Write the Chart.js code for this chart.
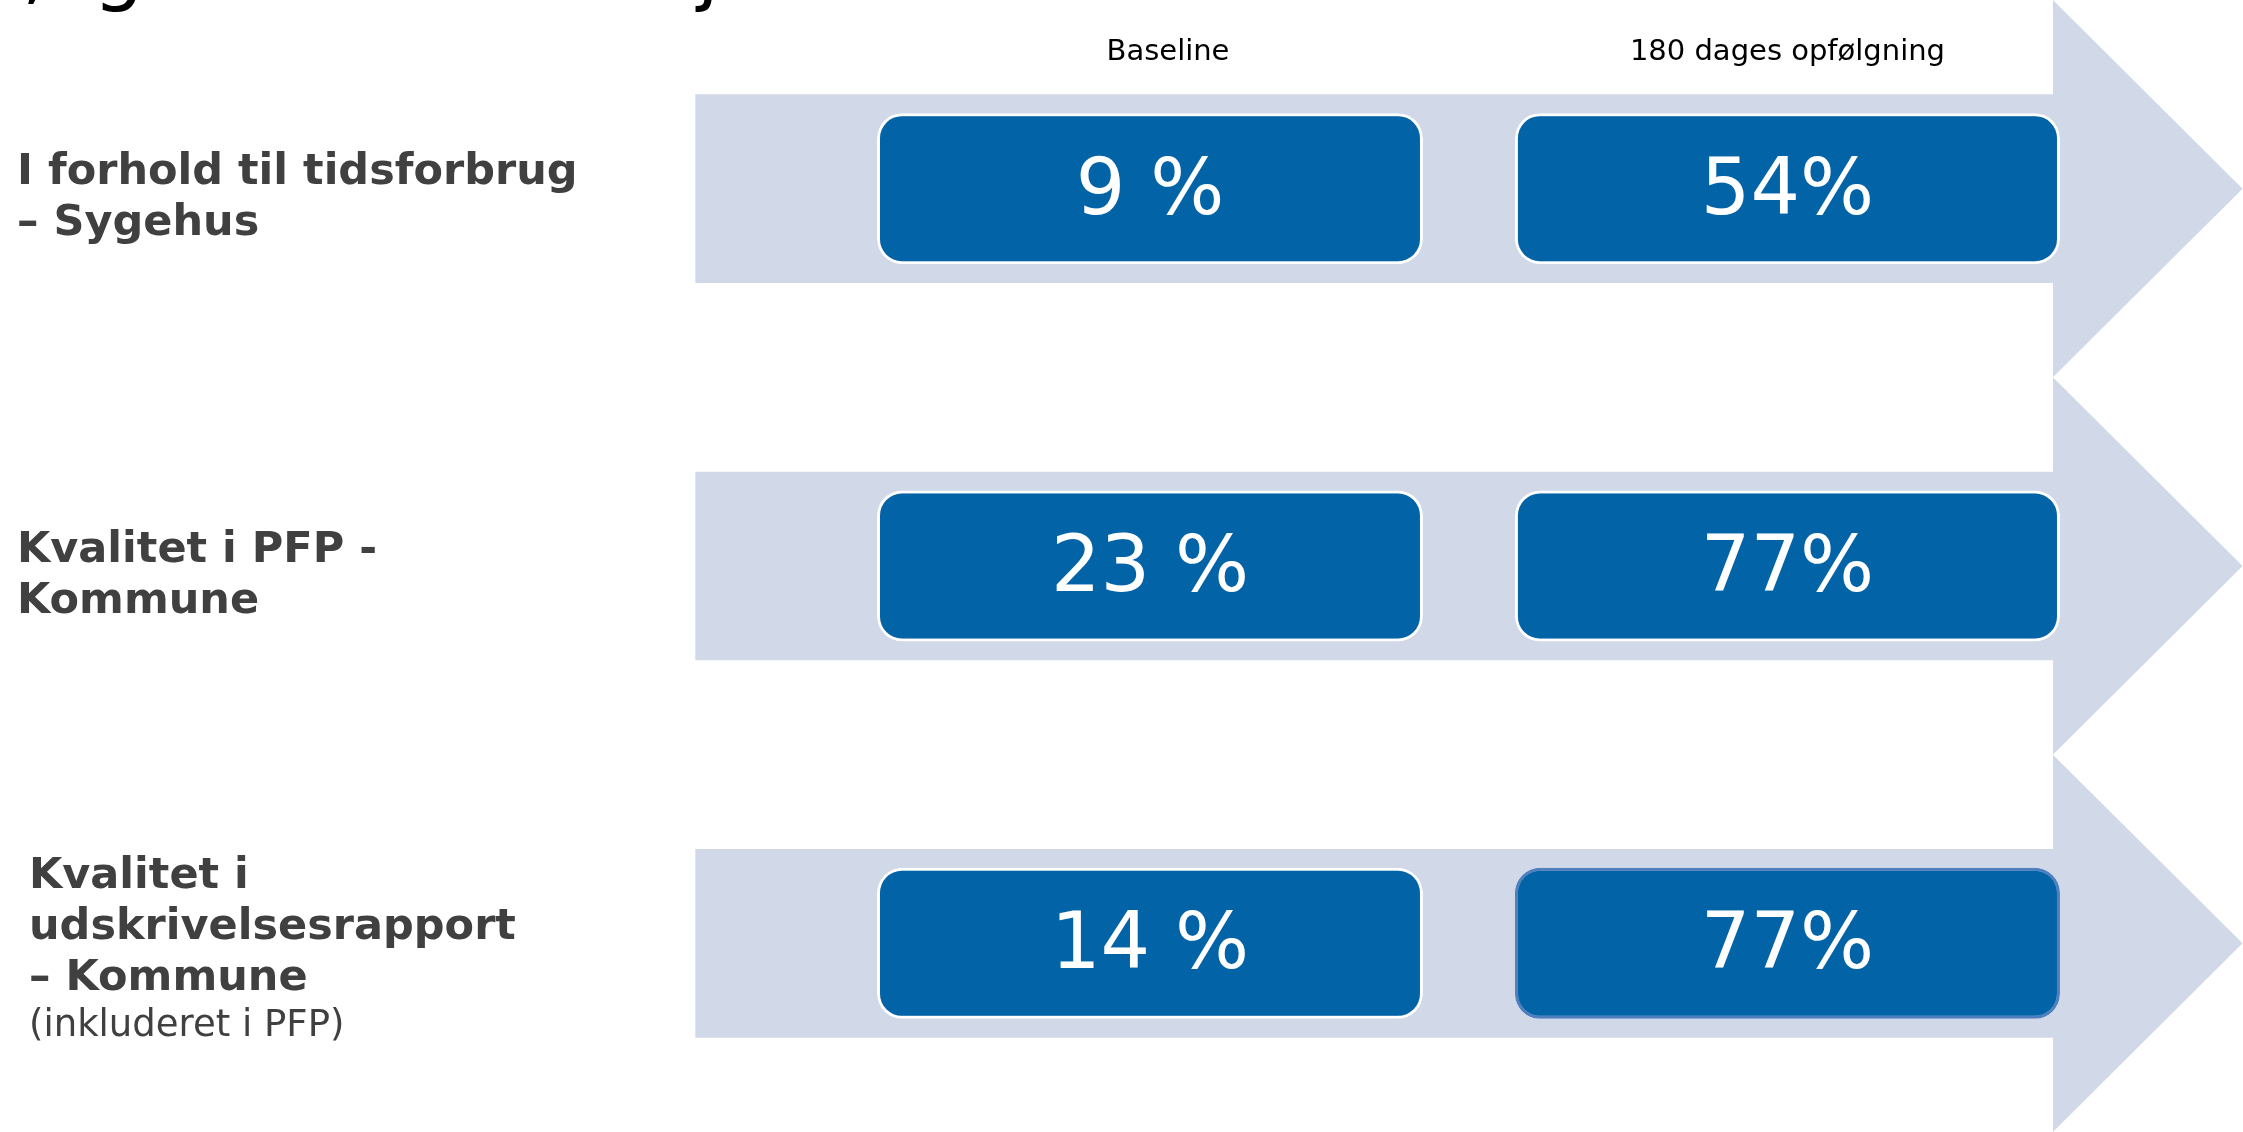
<!DOCTYPE html>
<html>
<head>
<meta charset="utf-8">
<script src="https://cdn.jsdelivr.net/npm/chart.js@4"></script>
<style>
  html, body { margin: 0; padding: 0; background: #fff; overflow: hidden; }
  #wrap { position: relative; width: 2243px; height: 1132px; }
</style>
</head>
<body>
<div id="wrap"><canvas id="chart"></canvas></div>
<script>
// Rows (drawn as label blocks on the left)
const rowLabels = [
  ["I forhold til tidsforbrug", "– Sygehus"],
  ["Kvalitet i PFP -", "Kommune"],
  ["Kvalitet i", "udskrivelsesrapport", "– Kommune"]
];
const rowNotes = ["", "", "(inkluderet i PFP)"];

// Columns
const columnLabels = ["Baseline", "180 dages opfølgning"];

// Values (percent)
const baselineValues = [9, 23, 14];
const followupValues = [54, 77, 77];

// Layout, in % of slide width
const bandSpan = [31, 91.57];
const columnSpans = [[39.1, 63.44], [67.54, 91.84]];
const labelIndent = [17, 17, 29];

const BAND = "#D1D9E8";
const BOX = "#0363A7";
const TEXT_DARK = "#404040";
const FONT = '"DejaVu Sans", Verdana, sans-serif';

function fmtBaseline(v) { return v + " %"; }
function fmtFollowup(v) { return v + "%"; }

const arrowPlugin = {
  id: "arrowHeads",
  beforeDatasetsDraw(chart) {
    const ctx = chart.ctx;
    const yScale = chart.scales.y;
    const cat = yScale.getPixelForValue(1) - yScale.getPixelForValue(0);
    const meta = chart.getDatasetMeta(0);
    ctx.save();
    ctx.fillStyle = BAND;
    meta.data.forEach(el => {
      const end = Math.max(el.x, el.base);
      const half = cat / 2;
      ctx.beginPath();
      ctx.moveTo(end - 1, el.y - half);
      ctx.lineTo(end + half, el.y);
      ctx.lineTo(end - 1, el.y + half);
      ctx.closePath();
      ctx.fill();
    });
    ctx.restore();
  },
  afterDatasetsDraw(chart) {
    const ctx = chart.ctx;
    const yScale = chart.scales.y;

    ctx.save();
    // values inside the boxes
    ctx.fillStyle = "#fff";
    ctx.font = "78px " + FONT;
    ctx.textAlign = "center";
    ctx.textBaseline = "alphabetic";
    [1, 2].forEach(di => {
      const meta = chart.getDatasetMeta(di);
      const vals = di === 1 ? baselineValues : followupValues;
      const fmt = di === 1 ? fmtBaseline : fmtFollowup;
      meta.data.forEach((el, i) => {
        const cx = (el.x + el.base) / 2;
        ctx.fillText(fmt(vals[i]), cx, el.y + 25);
      });
    });

    // column headers
    ctx.fillStyle = "#000";
    ctx.font = "29px " + FONT;
    const headerShift = [18, 0];
    [1, 2].forEach((di, k) => {
      const el = chart.getDatasetMeta(di).data[0];
      const cx = (el.x + el.base) / 2 + headerShift[k];
      ctx.fillText(columnLabels[k], cx, 60);
    });

    // row labels
    ctx.textAlign = "left";
    rowLabels.forEach((lines, i) => {
      const cy = yScale.getPixelForValue(i);
      const n = lines.length + (rowNotes[i] ? 1 : 0);
      let y = cy - (n - 1) * 51 / 2 + 21;
      ctx.fillStyle = TEXT_DARK;
      ctx.font = "bold 43px " + FONT;
      lines.forEach(line => {
        ctx.fillText(line, labelIndent[i], y);
        y += 51;
      });
      if (rowNotes[i]) {
        ctx.font = "37px " + FONT;
        ctx.fillText(rowNotes[i], labelIndent[i], y - 5);
      }
    });

    // cut-off title (only descenders visible)
    ctx.fillStyle = "#000";
    ctx.font = "80px " + FONT;
    ctx.fillText(",", 22, -5);
    ctx.fillText("g", 93, -5);
    ctx.fillText("j", 697, -5);
    ctx.restore();
  }
};

new Chart(document.getElementById("chart"), {
  type: "bar",
  data: {
    labels: rowLabels,
    datasets: [
      {
        label: "band",
        data: rowLabels.map(() => bandSpan),
        backgroundColor: BAND,
        borderWidth: 0,
        grouped: false,
        barPercentage: 1,
        categoryPercentage: 0.5,
        order: 3
      },
      {
        label: columnLabels[0],
        data: baselineValues.map(() => columnSpans[0]),
        backgroundColor: BOX,
        borderColor: "#ffffff",
        borderWidth: 3,
        borderRadius: 25,
        borderSkipped: false,
        grouped: false,
        barPercentage: 1,
        categoryPercentage: 0.4,
        order: 2
      },
      {
        label: columnLabels[1],
        data: followupValues.map(() => columnSpans[1]),
        backgroundColor: BOX,
        borderColor: ["#ffffff", "#ffffff", "#4F7FBE"],
        borderWidth: 3,
        borderRadius: 25,
        borderSkipped: false,
        grouped: false,
        barPercentage: 1,
        categoryPercentage: 0.4,
        order: 1
      }
    ]
  },
  options: {
    indexAxis: "y",
    responsive: true,
    maintainAspectRatio: false,
    animation: false,
    layout: { padding: 0 },
    plugins: {
      legend: { display: false },
      tooltip: { enabled: false }
    },
    scales: {
      x: { type: "linear", min: 0, max: 100, display: false },
      y: { type: "category", display: false, offset: true }
    }
  },
  plugins: [arrowPlugin]
});
</script>
</body>
</html>
